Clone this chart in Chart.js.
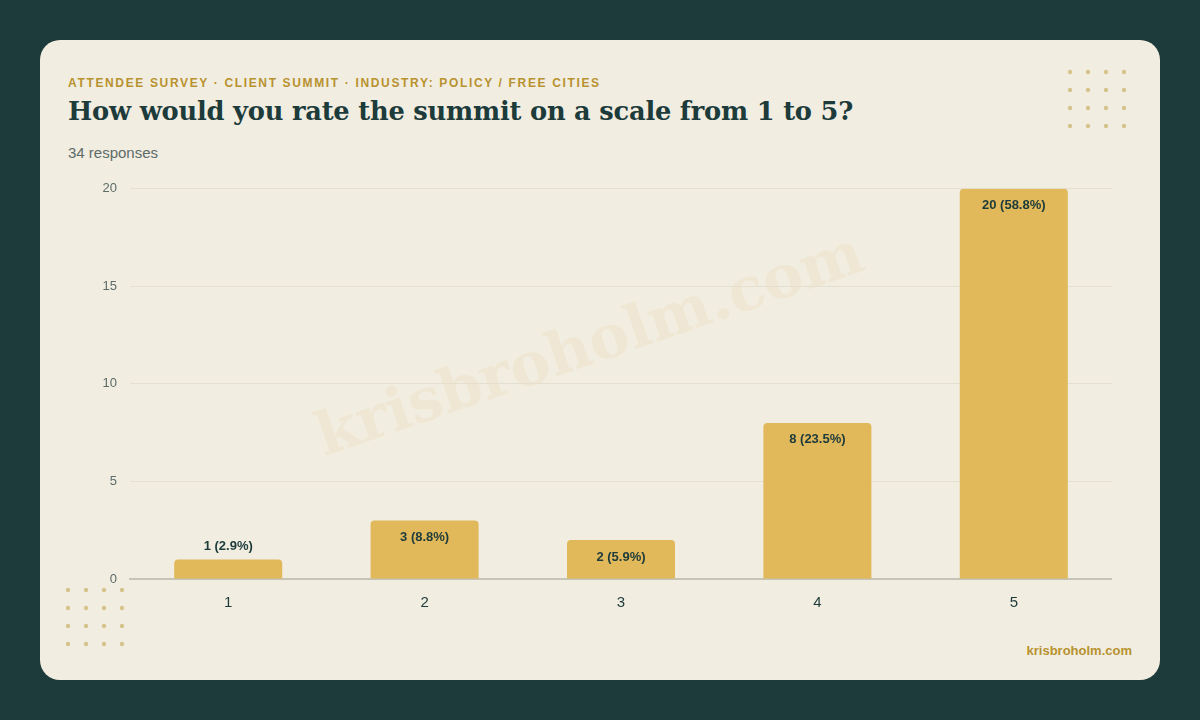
<!DOCTYPE html>
<html lang="en">
<head>
    <meta charset="UTF-8">
    <title>Summit rating</title>
    <script src="https://cdn.jsdelivr.net/npm/chart.js"></script>
    <style>
        html, body { margin: 0; padding: 0; }
        body { width: 1200px; height: 720px; background: #1c3b3a; font-family: "Liberation Sans", Arial, sans-serif; overflow: hidden; }
        .card { position: absolute; left: 40px; top: 40px; width: 1120px; height: 640px; background: #f1ede1; border-radius: 20px; overflow: hidden; }
        .kicker { position: absolute; left: 28px; top: 36px; font-size: 12px; font-weight: 700; letter-spacing: 1.65px; color: #b8922f; white-space: nowrap; }
        .title { position: absolute; left: 28px; top: 56px; font-family: "DejaVu Serif", serif; font-weight: 700; font-size: 25.7px; letter-spacing: -0.2px; color: #1c3b3a; white-space: nowrap; }
        .sub { position: absolute; left: 28px; top: 104px; font-size: 15px; color: #5d6b68; }
        .foot { position: absolute; right: 28px; top: 603px; font-size: 13px; font-weight: 700; color: #b8922f; }
        .wm { position: absolute; left: 262px; top: 268px; font-family: "DejaVu Serif", serif; font-weight: 700; font-size: 60px; color: rgba(225,184,90,0.1); transform: rotate(-19deg); white-space: nowrap; }
        .chart-box { position: absolute; left: 20px; top: 128px; width: 1052px; height: 451px; }
        .dots { position: absolute; }
    </style>
</head>
<body>
    <div class="card">
        <div class="wm">krisbroholm.com</div>
        <div class="kicker">ATTENDEE SURVEY · CLIENT SUMMIT · INDUSTRY: POLICY / FREE CITIES</div>
        <div class="title">How would you rate the summit on a scale from 1 to 5?</div>
        <div class="sub">34 responses</div>
        <div class="foot">krisbroholm.com</div>
        <svg class="dots" id="dotsTop" style="left:1022px;top:24px" width="70" height="70"></svg>
        <svg class="dots" id="dotsBottom" style="left:20px;top:542px" width="70" height="70"></svg>
        <div class="chart-box"><canvas id="ratingChart"></canvas></div>
    </div>
    <script>
    const ratings = ['1', '2', '3', '4', '5'];
    const counts = [1, 3, 2, 8, 20];
    const yTicks = [0, 5, 10, 15, 20];

    // decorative dot grids
    ['dotsTop', 'dotsBottom'].forEach(id => {
        const svg = document.getElementById(id);
        let html = '';
        for (let r = 0; r < 4; r++) {
            for (let c = 0; c < 4; c++) {
                html += `<circle cx="${8 + c * 18}" cy="${8 + r * 18}" r="2.2" fill="#d6c38c"/>`;
            }
        }
        svg.innerHTML = html;
    });

    const total = counts.reduce((a, b) => a + b, 0);

    // value + percent label, inside the bar top or above short bars
    const barLabels = {
        id: 'barLabels',
        afterDatasetsDraw(chart) {
            const ctx = chart.ctx;
            const meta = chart.getDatasetMeta(0);
            ctx.save();
            ctx.font = 'bold 13px "Liberation Sans", Arial, sans-serif';
            ctx.fillStyle = '#1c3b3a';
            ctx.textAlign = 'center';
            ctx.textBaseline = 'middle';
            meta.data.forEach((bar, i) => {
                const v = counts[i];
                const txt = v + ' (' + (v / total * 100).toFixed(1) + '%)';
                const h = bar.base - bar.y;
                const y = h < 30 ? bar.y - 13 : bar.y + 17;
                ctx.fillText(txt, bar.x, y);
            });
            ctx.restore();
        }
    };

    new Chart(document.getElementById('ratingChart').getContext('2d'), {
        type: 'bar',
        data: {
            labels: ratings,
            datasets: [{
                data: counts,
                backgroundColor: '#e1b85a',
                borderRadius: 4,
                borderSkipped: 'bottom',
                categoryPercentage: 0.55,
                barPercentage: 1
            }]
        },
        options: {
            responsive: true,
            maintainAspectRatio: false,
            animation: false,
            layout: { padding: { top: 16, right: 0, left: 0, bottom: 0 } },
            plugins: { legend: { display: false }, tooltip: { enabled: false } },
            scales: {
                x: {
                    grid: { display: false, drawTicks: false },
                    border: { color: '#c5c4b6', width: 2 },
                    ticks: { color: '#1c3b3a', font: { size: 15, family: '"Liberation Sans", Arial, sans-serif' }, padding: 15 },
                    afterFit: s => { s.height = 40; }
                },
                y: {
                    min: 0,
                    max: 20,
                    afterBuildTicks: s => { s.ticks = yTicks.map(v => ({ value: v })); },
                    grid: { color: '#e5dfd0', lineWidth: 1, drawTicks: false },
                    border: { display: false },
                    ticks: { color: '#5d6b68', font: { size: 13, family: '"Liberation Sans", Arial, sans-serif' }, padding: 13 },
                    afterFit: s => { s.width = 70; }
                }
            }
        },
        plugins: [barLabels]
    });
    </script>
</body>
</html>
